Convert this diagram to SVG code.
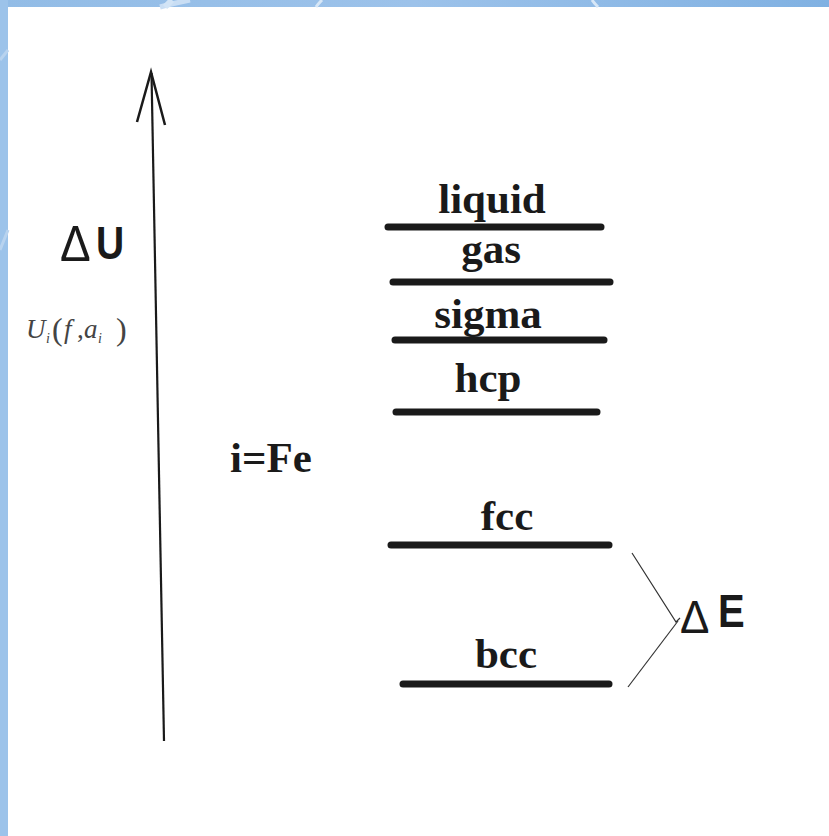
<svg xmlns="http://www.w3.org/2000/svg" width="829" height="836" viewBox="0 0 829 836">
<defs>
<linearGradient id="topband" x1="0" y1="0" x2="1" y2="0">
<stop offset="0" stop-color="#92bce6"/>
<stop offset="0.5" stop-color="#9cc2ea"/>
<stop offset="1" stop-color="#80b1e2"/>
</linearGradient>
<style>
.lvl{stroke:#1a1a1a;stroke-width:7;stroke-linecap:round;fill:none}
.lbl{font-family:"Liberation Serif","Times New Roman",serif;font-weight:bold;font-size:43px;fill:#1a1a1a;text-anchor:middle}
.thin{stroke:#333;stroke-width:1.2;fill:none}
.sym{font-family:"Liberation Sans",Arial,sans-serif;fill:#1a1a1a}
.sans{font-family:"Liberation Sans",Arial,sans-serif;font-weight:bold;fill:#1a1a1a}
.math{font-family:"Liberation Serif","Times New Roman",serif;fill:#444}
</style>
</defs>
<rect x="0" y="0" width="829" height="836" fill="#ffffff"/>
<g id="background">
<rect x="0" y="0" width="829" height="7" fill="url(#topband)"/>
<rect x="0" y="0" width="8" height="836" fill="#9cc3ea"/>
<path d="M160,7 C170,4 180,2 190,0" stroke="#c9def4" stroke-width="5" fill="none"/>
<path d="M165,7 L172,0" stroke="#d2e4f6" stroke-width="6" fill="none"/>
<path d="M316,7 C318,4 320,2 322,0" stroke="#d7e7f7" stroke-width="3" fill="none"/>
<path d="M592,0 C594,3 596,5 598,7" stroke="#d7e7f7" stroke-width="3" fill="none"/>
<path d="M0,60 L8,50" stroke="#b8d3ef" stroke-width="3" fill="none"/>
<path d="M0,250 L8,230" stroke="#b8d3ef" stroke-width="3" fill="none"/>
</g>
<g id="connectors">
<line x1="164" y1="741" x2="151.5" y2="73" stroke="#1a1a1a" stroke-width="2.2"/>
<polyline points="137,122 151,72 165,125" fill="none" stroke="#1a1a1a" stroke-width="2.5" stroke-linejoin="miter"/>
<polyline class="thin" points="632,553 676,622 680,618"/>
<line class="thin" x1="678" y1="621" x2="628" y2="687"/>
</g>
<g id="axis-label">
<text class="sym" x="60" y="261" font-size="46" transform="translate(0,-26) scale(1,1.1)">Δ</text>
<text class="sans" x="96" y="258" transform="translate(0,-48) scale(1,1.19)" style="font-size:39px">U</text>
<text class="math" y="338"><tspan x="26" font-style="italic" font-size="27">U</tspan><tspan x="46" y="343" font-style="italic" font-size="14">i</tspan><tspan x="52" y="340" font-size="32">(</tspan><tspan x="64" y="338" font-style="italic" font-size="27">f</tspan><tspan x="77" font-size="27">,</tspan><tspan x="84" font-style="italic" font-size="27">a</tspan><tspan x="98" y="343" font-style="italic" font-size="14">i</tspan><tspan x="116" y="340" font-size="32">)</tspan></text>
</g>
<g id="element-label">
<text class="lbl" x="271" y="472">i=Fe</text>
</g>
<g id="liquid">
<line class="lvl" x1="388" y1="227" x2="601" y2="227"/>
<text class="lbl" x="492" y="213">liquid</text>
</g>
<g id="gas">
<line class="lvl" x1="393" y1="282" x2="610" y2="282"/>
<text class="lbl" x="491" y="263">gas</text>
</g>
<g id="sigma">
<line class="lvl" x1="395" y1="340" x2="604" y2="340"/>
<text class="lbl" x="488" y="328">sigma</text>
</g>
<g id="hcp">
<line class="lvl" x1="396" y1="412" x2="597" y2="412"/>
<text class="lbl" x="488" y="392">hcp</text>
</g>
<g id="fcc">
<line class="lvl" x1="391" y1="545" x2="609" y2="545"/>
<text class="lbl" x="507" y="530">fcc</text>
</g>
<g id="bcc">
<line class="lvl" x1="403" y1="684" x2="609" y2="684"/>
<text class="lbl" x="506" y="668">bcc</text>
</g>
<g id="delta-e">
<text class="sym" x="680" y="633" font-size="44" transform="translate(0,-32) scale(1,1.05)">Δ</text>
<text class="sans" x="718" y="627" transform="translate(0,-107) scale(1,1.17)" style="font-size:40px">E</text>
</g>
</svg>
